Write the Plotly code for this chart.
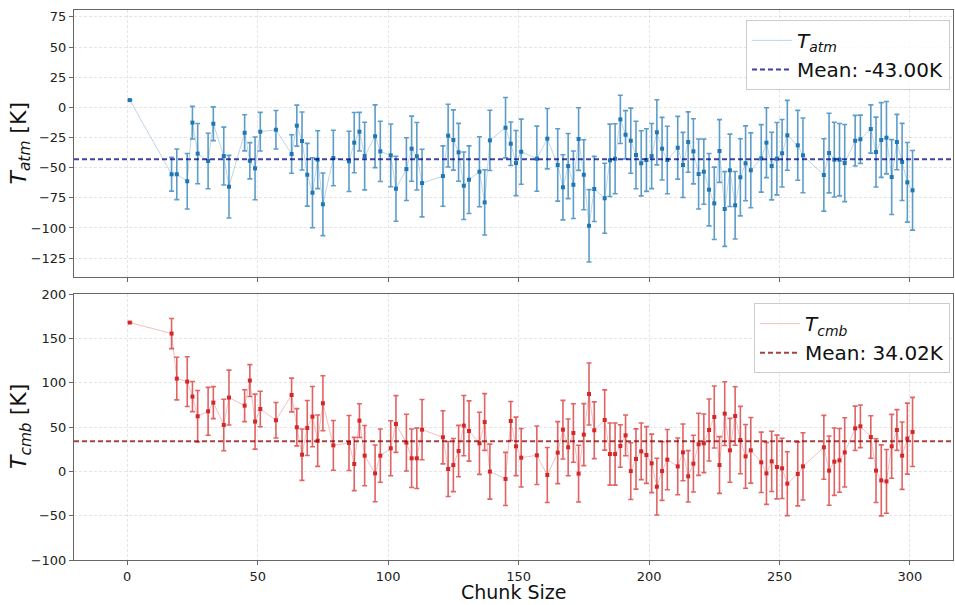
import plotly.graph_objects as go

CHUNK = [1, 17, 19, 23, 25, 27, 31, 33, 37, 39, 45, 47, 49, 51, 57, 63, 65, 67, 69, 71,
         73, 75, 79, 85, 87, 89, 91, 95, 97, 101, 103, 107, 109, 111, 113, 121, 123, 125, 127, 129,
         131, 135, 137, 139, 145, 147, 149, 151, 157, 161, 165, 167, 169, 171, 173, 175, 177, 179, 183, 185,
         187, 189, 191, 193, 195, 197, 199, 201, 203, 205, 207, 211, 213, 215, 217, 219, 221, 223, 225, 227,
         229, 231, 233, 235, 237, 239, 243, 245, 247, 249, 251, 253, 257, 259, 267, 269, 271, 273, 275, 279,
         281, 285, 287, 289, 291, 293, 295, 297, 299, 301]

T_ATM = [6.0, -55.5, -55.5, -61.3, -12.7, -38.4, -44.5, -13.6, -40.4, -65.8,
         -21.1, -44.3, -50.6, -20.2, -18.6, -38.7, -15.2, -27.9, -55.9, -70.8,
         -43.4, -80.4, -42.0, -44.8, -29.3, -20.2, -40.4, -24.0, -36.5, -39.8,
         -67.5, -51.2, -34.3, -40.6, -62.8, -57.0, -23.5, -27.1, -37.3, -65.0,
         -60.0, -53.4, -78.8, -27.4, -16.9, -30.2, -46.2, -36.8, -42.6, -26.0,
         -47.8, -66.3, -48.7, -64.2, -26.3, -55.9, -98.2, -67.7, -75.4, -43.9,
         -42.6, -10.0, -22.7, -27.7, -39.5, -46.4, -43.7, -40.4, -20.7, -34.3,
         -43.7, -33.5, -47.8, -28.8, -36.5, -55.3, -53.4, -68.3, -79.6, -36.2,
         -84.3, -52.2, -81.2, -58.0, -46.4, -52.2, -42.3, -29.3, -48.7, -42.6,
         -38.1, -23.2, -31.5, -39.8, -56.1, -37.9, -43.4, -43.4, -46.2, -27.7,
         -26.5, -18.0, -37.1, -27.1, -25.2, -57.8, -28.8, -45.3, -62.2, -68.8]

ERR_ATM = [None, 14, 21, 23, 13.5, 25, 23, 14, 24, 26,
           15, 15, 26, 16, 16, 16, 17, 24, 26, 29,
           24, 26, 23, 25, 25, 16, 28, 26, 25, 26,
           27, 26, 27, 28, 28, 25, 26, 25, 24, 28,
           28, 29, 27, 25, 25, 18, 27, 27, 27, 25,
           30, 27, 27, 28, 26, 29, 30, 27, 29, 30,
           29, 20, 20, 27, 28, 27, 26, 27, 27, 26,
           28, 26, 27, 25, 27, 29, 27, 30, 30, 26,
           31, 30, 28, 32, 31, 31, 28, 29, 28, 30,
           28, 29, 29, 31, 30, 33, 31, 30, 32, 21,
           20, 20, 29, 31, 30, 31, 23, 32, 33, 33]

T_CMB = [167.8, 155.4, 104.6, 101.2, 84.3, 62.1, 67.7, 77.5, 52.3, 83.2,
         74.1, 102.4, 56.1, 70.3, 57.6, 86.1, 49.7, 18.8, 48.9, 61.7,
         34.6, 76.8, 29.3, 32.0, 8.3, 57.2, 17.7, -2.3, 17.7, 26.0,
         53.4, 32.4, 14.7, 14.7, 47.0, 38.4, 2.6, 7.1, 22.9, 51.6,
         45.5, 31.6, 55.6, -0.3, -8.6, 56.8, 28.2, 15.4, 18.1, -4.1,
         21.1, 47.0, 27.1, 43.3, -2.6, 41.4, 87.2, 46.3, 57.9, 19.5,
         19.5, 28.6, 40.6, 0.3, 13.9, 22.6, 18.4, 9.0, -17.3, 0.3,
         13.2, 5.6, 21.4, -5.6, 8.7, 30.5, 31.6, 46.6, 61.3, 7.1,
         65.1, 23.7, 62.4, 35.3, 16.9, 23.7, 10.2, -2.3, 11.3, 4.9,
         3.4, -13.9, -3.0, 5.6, 27.1, 0.8, 10.9, 12.4, 21.4, 48.5,
         50.8, 38.7, 0.8, -10.2, -11.3, 28.2, 46.6, 17.7, 36.9, 44.4]

ERR_CMB = [None, 17, 24, 28, 17, 29, 27, 18, 29, 31,
           18, 18, 31, 20, 20, 19, 21, 29, 31, 34,
           29, 31, 28, 31, 30, 19, 34, 32, 30, 31,
           32, 32, 33, 34, 34, 30, 31, 30, 29, 34,
           34, 35, 32, 31, 30, 22, 33, 33, 33, 31,
           35, 33, 32, 33, 32, 35, 35, 32, 34, 35,
           35, 24, 23, 32, 34, 32, 32, 33, 32, 33,
           34, 32, 32, 29, 32, 35, 33, 35, 35, 32,
           36, 36, 33, 38, 36, 37, 34, 35, 34, 36,
           34, 36, 36, 38, 36, 39, 38, 36, 39, 25,
           24, 24, 36, 40, 36, 36, 23, 38, 40, 39]

MEAN_ATM = -43.00
MEAN_CMB = 34.02

ATM_TICKS = [-125, -100, -75, -50, -25, 0, 25, 50, 75]
CMB_TICKS = [-100, -50, 0, 50, 100, 150, 200]
X_TICKS = [0, 50, 100, 150, 200, 250, 300]

BLUE = "#1f77b4"
RED = "#d62728"
FONT = "DejaVu Sans"

fig = go.Figure()

# ---- top panel ----
fig.add_trace(go.Scatter(
    x=CHUNK, y=T_ATM, mode="lines", name="<i>T<sub>atm</sub></i>",
    line=dict(color="rgba(31,119,180,0.3)", width=1),
    xaxis="x", yaxis="y", legend="legend"))
fig.add_trace(go.Scatter(
    x=CHUNK, y=T_ATM, mode="markers", showlegend=False,
    marker=dict(color=BLUE, size=4, symbol="square"),
    error_y=dict(type="data", array=ERR_ATM, color="rgba(31,119,180,0.72)",
                 thickness=1.6, width=2.5),
    xaxis="x", yaxis="y"))
fig.add_trace(go.Scatter(
    x=[None], y=[None], mode="lines", name=f"Mean: {MEAN_ATM:.2f}K",
    line=dict(color="rgba(0,0,139,0.75)", width=2, dash="5px,3px"),
    xaxis="x", yaxis="y", legend="legend"))

# ---- bottom panel ----
fig.add_trace(go.Scatter(
    x=CHUNK, y=T_CMB, mode="lines", name="<i>T<sub>cmb</sub></i>",
    line=dict(color="rgba(214,39,40,0.3)", width=1),
    xaxis="x2", yaxis="y2", legend="legend2"))
fig.add_trace(go.Scatter(
    x=CHUNK, y=T_CMB, mode="markers", showlegend=False,
    marker=dict(color=RED, size=4, symbol="square"),
    error_y=dict(type="data", array=ERR_CMB, color="rgba(214,39,40,0.72)",
                 thickness=1.6, width=2.5),
    xaxis="x2", yaxis="y2"))
fig.add_trace(go.Scatter(
    x=[None], y=[None], mode="lines", name=f"Mean: {MEAN_CMB:.2f}K",
    line=dict(color="rgba(139,0,0,0.75)", width=2, dash="5px,3px"),
    xaxis="x2", yaxis="y2", legend="legend2"))

fig.add_shape(type="line", xref="x domain", yref="y", x0=0, x1=1, y0=MEAN_ATM, y1=MEAN_ATM,
              line=dict(color="rgba(0,0,139,0.75)", width=2, dash="5px,3px"))
fig.add_shape(type="line", xref="x2 domain", yref="y2", x0=0, x1=1, y0=MEAN_CMB, y1=MEAN_CMB,
              line=dict(color="rgba(139,0,0,0.75)", width=2, dash="5px,3px"))

# axis titles as annotations for precise placement
fig.add_annotation(text="Chunk Size", xref="paper", yref="paper", x=0.5, y=-0.0582,
                   xanchor="center", yanchor="middle", showarrow=False,
                   font=dict(family=FONT, size=19, color="#111"))
fig.add_annotation(text="<i>T<sub>atm</sub></i> [K]", xref="paper", yref="y domain",
                   x=-0.0614, y=0.5, xanchor="center", yanchor="middle", textangle=-90,
                   showarrow=False, font=dict(family=FONT, size=22, color="#111"))
fig.add_annotation(text="<i>T<sub>cmb</sub></i> [K]", xref="paper", yref="y2 domain",
                   x=-0.0614, y=0.5, xanchor="center", yanchor="middle", textangle=-90,
                   showarrow=False, font=dict(family=FONT, size=22, color="#111"))

axis_common = dict(
    showline=True, linecolor="#666", linewidth=1, mirror=True,
    showgrid=True, gridcolor="rgba(0,0,0,0.10)", griddash="3px,2px", gridwidth=1,
    zeroline=False, ticks="outside", ticklen=4, tickcolor="#666",
    tickfont=dict(family=FONT, size=13, color="#222"),
    automargin=False,
)

XR = [-20.4, 316.5]

fig.update_layout(
    width=955, height=605,
    margin=dict(l=74, r=2, t=10, b=45),
    paper_bgcolor="white", plot_bgcolor="white",
    font=dict(family=FONT, color="#222"),
    xaxis=dict(domain=[0, 1], anchor="y", range=XR, tickvals=X_TICKS,
               showticklabels=False, matches="x2", **axis_common),
    xaxis2=dict(domain=[0, 1], anchor="y2", range=XR, tickvals=X_TICKS, **axis_common),
    yaxis=dict(domain=[0.5145, 1.0], anchor="x", range=[-140.7, 80.7], tickvals=ATM_TICKS,
               **axis_common),
    yaxis2=dict(domain=[0.0, 0.4836], anchor="x2", range=[-100, 200], tickvals=CMB_TICKS,
                **axis_common),
    legend=dict(x=0.7645, y=0.982, xanchor="left", yanchor="top",
                bgcolor="rgba(255,255,255,0.85)", bordercolor="#ccc", borderwidth=1,
                font=dict(family=FONT, size=20, color="#111"), itemwidth=40,
                tracegroupgap=0),
    legend2=dict(x=0.7736, y=0.467, xanchor="left", yanchor="top",
                 bgcolor="rgba(255,255,255,0.85)", bordercolor="#ccc", borderwidth=1,
                 font=dict(family=FONT, size=20, color="#111"), itemwidth=40,
                 tracegroupgap=0),
    showlegend=True,
)

fig.write_html("out.html", config={"displayModeBar": False},
               post_script="document.body.style.margin='0';")
